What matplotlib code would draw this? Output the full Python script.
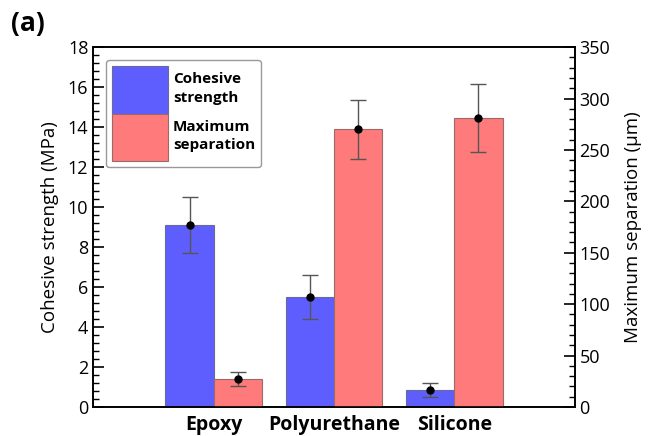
import numpy as np
import matplotlib.pyplot as plt
from matplotlib.ticker import MultipleLocator

# data
materials = ['Epoxy', 'Polyurethane', 'Silicone']
strength = [9.1, 5.5, 0.85]          # MPa
strength_err = [1.4, 1.1, 0.35]
separation = [27, 270, 281]          # um
separation_err = [7, 29, 33]

blue = '#5E5EFF'
red = '#FF7A7A'

plt.rcParams['font.family'] = ['Open Sans', 'DejaVu Sans']

fig = plt.figure(figsize=(6.66, 4.36), dpi=100)
ax1 = fig.add_axes([0.14, 0.0665, 0.723, 0.8255])
ax2 = ax1.twinx()

x = np.arange(len(materials))
w = 0.4

ax1.bar(x - w/2, strength, w, color=blue, edgecolor='#6a6a9a', lw=0.8,
        label='Cohesive\nstrength')
ax1.errorbar(x - w/2, strength, yerr=strength_err, fmt='o', color='k', ms=5,
             ecolor='#555555', elinewidth=1.0, capsize=6, capthick=1.0)

ax2.bar(x + w/2, separation, w, color=red, edgecolor='#9a6a6a', lw=0.8,
        label='Maximum\nseparation')
ax2.errorbar(x + w/2, separation, yerr=separation_err, fmt='o', color='k', ms=5,
             ecolor='#555555', elinewidth=1.0, capsize=6, capthick=1.0)

ax1.set_xlim(-1.0, 3.0)
ax1.set_ylim(0, 18)
ax2.set_ylim(0, 350)

ax1.set_xticks(x)
ax1.set_xticklabels(materials, fontsize=14, fontweight='bold')
ax1.tick_params(axis='x', length=0, pad=6)

ax1.yaxis.set_major_locator(MultipleLocator(2))
ax1.yaxis.set_minor_locator(MultipleLocator(0.4))
ax2.yaxis.set_major_locator(MultipleLocator(50))
ax2.yaxis.set_minor_locator(MultipleLocator(10))

ax1.tick_params(axis='y', which='major', direction='in', length=8, width=1.2, labelsize=13)
ax1.tick_params(axis='y', which='minor', direction='in', length=4, width=1.0)
ax2.tick_params(axis='y', which='major', direction='in', length=8, width=1.2, labelsize=13)
ax2.tick_params(axis='y', which='minor', direction='in', length=4, width=1.0)

for ax in (ax1, ax2):
    for s in ax.spines.values():
        s.set_linewidth(1.2)

ax1.set_ylabel('Cohesive strength (MPa)', fontsize=13.5, labelpad=6)
ax2.set_ylabel('Maximum separation (\u00b5m)', fontsize=13.5, labelpad=10)

h1, l1 = ax1.get_legend_handles_labels()
h2, l2 = ax2.get_legend_handles_labels()
leg = ax2.legend(h1 + h2, l1 + l2, loc='upper left', bbox_to_anchor=(0.01, 0.985),
                 prop={'size': 11, 'weight': 'bold'}, handlelength=3.7,
                 handleheight=4.4, labelspacing=0.0, handletextpad=0.3,
                 borderpad=0.4, fancybox=True, edgecolor='#999999', framealpha=1)
leg.get_frame().set_linewidth(1.0)
for t in leg.get_texts():
    t.set_linespacing(1.4)

fig.text(0.016, 0.93, '(a)', fontsize=19, fontweight='bold')

fig.savefig('out.png', dpi=100)
